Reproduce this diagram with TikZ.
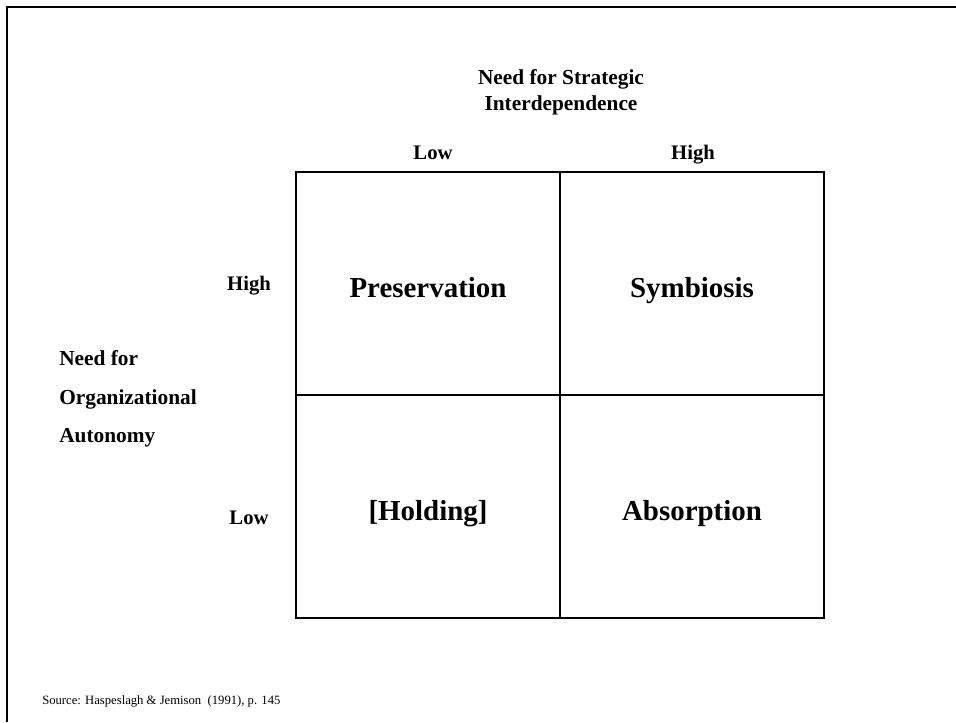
\documentclass[tikz,border=0pt]{standalone}
\usepackage{fontspec}
\setmainfont{Liberation Serif}
\begin{document}
\begin{tikzpicture}[x=0.75pt,y=-0.75pt,
  cell/.style={draw, line width=1.1pt, minimum width=198pt, minimum height=167.25pt,
    inner sep=0pt},
  quadlabel/.style={font=\fontsize{21.7}{26}\selectfont\bfseries, inner sep=0pt, anchor=base},
  axistitle/.style={font=\fontsize{16}{19}\selectfont\bfseries, inner sep=0pt},
  levellabel/.style={font=\fontsize{15.5}{18}\selectfont\bfseries, inner sep=0pt, anchor=base},
  sourcenote/.style={font=\fontsize{9.5}{11}\selectfont, inner sep=0pt, anchor=base west}]
\useasboundingbox (0,0) rectangle (956,722);
% page frame (top and left edges)
\draw[line width=1.5pt] (956,6.5) -- (7,6.5) -- (7,722);

% the four quadrants
\node[cell] (pres) at (428,283.5) {};
\node[cell] (symb) at (692,283.5) {};
\node[cell] (hold) at (428,506.5) {};
\node[cell] (abso) at (692,506.5) {};
\node[quadlabel] (presl) at (428,297) {Preservation};
\node[quadlabel] (symbl) at (692,297) {Symbiosis};
\node[quadlabel] (holdl) at (428,520) {[Holding]};
\node[quadlabel] (absol) at (692,520) {Absorption};

% horizontal axis
\node[axistitle, anchor=base] (ht1) at (561,84.5) {Need for Strategic};
\node[axistitle, anchor=base] (ht2) at (561,110) {Interdependence};
\node[levellabel] (hlow) at (433,159) {Low};
\node[levellabel] (hhigh) at (693,159) {High};

% vertical axis
\node[levellabel] (vhigh) at (249,290.5) {High};
\node[levellabel] (vlow) at (249,524) {Low};
\node[axistitle, anchor=base west] (vt1) at (59,365.7) {Need for};
\node[axistitle, anchor=base west] (vt2) at (59,404) {Organizational};
\node[axistitle, anchor=base west] (vt3) at (59,442.7) {Autonomy};

% source line
\node[sourcenote] (src) at (42,704) {Source: Haspeslagh \& Jemison\ \ (1991), p. 145};
\end{tikzpicture}
\end{document}
